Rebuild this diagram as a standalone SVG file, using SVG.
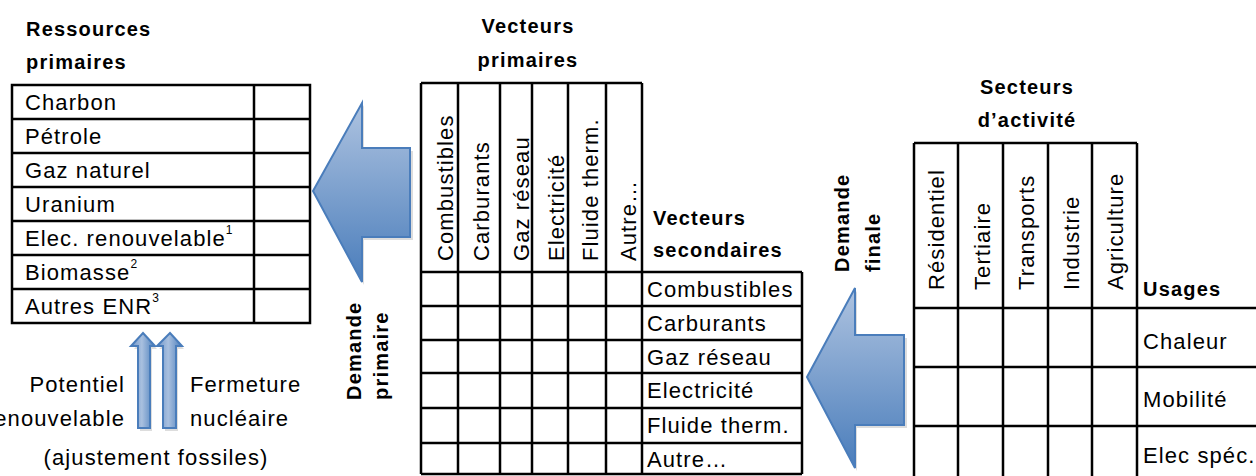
<svg xmlns="http://www.w3.org/2000/svg" width="1256" height="476" viewBox="0 0 1256 476">
<defs>
<linearGradient id="gv" x1="0" y1="0" x2="0" y2="1">
<stop offset="0" stop-color="#aec3e0"/>
<stop offset="1" stop-color="#4a7dbb"/>
</linearGradient>
<linearGradient id="gh" x1="0" y1="0" x2="1" y2="0">
<stop offset="0" stop-color="#6d94c8"/>
<stop offset="0.45" stop-color="#a9c0df"/>
<stop offset="1" stop-color="#4a7dbb"/>
</linearGradient>
</defs>
<style>
text{font-family:"Liberation Sans",Arial,sans-serif;fill:#000}
.t{font-size:22px;letter-spacing:1.1px}
.b{font-size:20px;font-weight:bold;letter-spacing:1.2px}
.sup{font-size:12px;letter-spacing:0}
.ln{stroke:#000;stroke-width:2.5;fill:none}
.arr{stroke:#4a7dbb;stroke-width:2;stroke-linejoin:miter}
.sh{fill:#bbbbbb;opacity:0.5}
</style>
<rect width="1256" height="476" fill="#fff"/>

<g id="connectors">
<g id="arrow-demande-primaire">
<polygon class="sh" points="315,194 364,105 364,151 413,151 413,240 364,240 364,285"/>
<polygon class="arr" fill="url(#gv)" points="313,191 362,103 362,148 410,148 410,237 362,237 362,282"/>
</g>
<g id="arrow-demande-finale">
<polygon class="sh" points="809,380 857,291 857,338 907,338 907,428 857,428 857,471"/>
<polygon class="arr" fill="url(#gv)" points="807,377 855,288 855,335 904,335 904,425 855,425 855,468"/>
</g>
<g id="arrow-potentiel">
<polygon class="sh" points="145,336 157,349 152,349 152,431 140,431 140,349 134,349"/>
<polygon class="arr" fill="url(#gh)" points="143,333 155,346 150,346 150,428 138,428 138,346 131,346"/>
</g>
<g id="arrow-fermeture">
<polygon class="sh" points="172,336 184,349 178,349 178,431 165,431 165,349 159,349"/>
<polygon class="arr" fill="url(#gh)" points="170,333 182,346 176,346 176,428 163,428 163,346 157,346"/>
</g>
</g>

<g id="ressources-primaires">
<text class="b" x="26" y="36">Ressources</text>
<text class="b" x="26" y="69">primaires</text>
<rect class="ln" x="12" y="85" width="298" height="238"/>
<path class="ln" d="M254,85V323 M12,119H310 M12,153H310 M12,187H310 M12,221H310 M12,255H310 M12,289H310"/>
<text class="t" x="25" y="110">Charbon</text>
<text class="t" x="25" y="144">Pétrole</text>
<text class="t" x="25" y="178">Gaz naturel</text>
<text class="t" x="25" y="212">Uranium</text>
<text class="t" x="25" y="246">Elec. renouvelable<tspan class="sup" dy="-12">1</tspan></text>
<text class="t" x="25" y="280">Biomasse<tspan class="sup" dy="-12">2</tspan></text>
<text class="t" x="25" y="314">Autres ENR<tspan class="sup" dy="-12">3</tspan></text>
</g>

<g id="ajustement">
<text class="t" x="125" y="392" text-anchor="end">Potentiel</text>
<text class="t" x="125" y="426" text-anchor="end">renouvelable</text>
<text class="t" x="190" y="392">Fermeture</text>
<text class="t" x="190" y="426">nucléaire</text>
<text class="t" x="156" y="465" text-anchor="middle">(ajustement fossiles)</text>
</g>

<g id="demande-primaire">
<text class="b" transform="translate(361,400) rotate(-90)">Demande</text>
<text class="b" transform="translate(388,400) rotate(-90)">primaire</text>
</g>

<g id="vecteurs">
<text class="b" x="528" y="33" text-anchor="middle">Vecteurs</text>
<text class="b" x="528" y="67" text-anchor="middle">primaires</text>
<path class="ln" d="M421,83H642 M421,83V474 M458,83V474 M500,83V474 M532,83V474 M568,83V474 M606,83V474 M642,83V474 M802,272V474 M421,272H802 M421,306H802 M421,340H802 M421,373H802 M421,408H802 M421,443H802 M421,474H802"/>
<text class="t" transform="translate(453,261) rotate(-90)">Combustibles</text>
<text class="t" transform="translate(489,261) rotate(-90)">Carburants</text>
<text class="t" transform="translate(529,261) rotate(-90)">Gaz réseau</text>
<text class="t" transform="translate(564,261) rotate(-90)">Electricité</text>
<text class="t" transform="translate(598,261) rotate(-90)">Fluide therm.</text>
<text class="t" transform="translate(636,261) rotate(-90)">Autre…</text>
<text class="b" x="653" y="225">Vecteurs</text>
<text class="b" x="653" y="257">secondaires</text>
<text class="t" x="647" y="297">Combustibles</text>
<text class="t" x="647" y="331">Carburants</text>
<text class="t" x="647" y="365">Gaz réseau</text>
<text class="t" x="647" y="398">Electricité</text>
<text class="t" x="647" y="433">Fluide therm.</text>
<text class="t" x="647" y="467">Autre…</text>
</g>

<g id="demande-finale">
<text class="b" transform="translate(849,272) rotate(-90)">Demande</text>
<text class="b" transform="translate(880,272) rotate(-90)">finale</text>
</g>

<g id="secteurs">
<text class="b" x="1027" y="94" text-anchor="middle">Secteurs</text>
<text class="b" x="1027" y="127" text-anchor="middle">d’activité</text>
<path class="ln" d="M914,143H1137 M914,143V476 M958,143V476 M1003,143V476 M1048,143V476 M1092,143V476 M1137,143V476 M914,308H1256 M914,367H1256 M914,426H1256"/>
<text class="t" transform="translate(944,290) rotate(-90)">Résidentiel</text>
<text class="t" transform="translate(990,290) rotate(-90)">Tertiaire</text>
<text class="t" transform="translate(1034,290) rotate(-90)">Transports</text>
<text class="t" transform="translate(1079,290) rotate(-90)">Industrie</text>
<text class="t" transform="translate(1123,290) rotate(-90)">Agriculture</text>
<text class="b" x="1143" y="296">Usages</text>
<text class="t" x="1143" y="349">Chaleur</text>
<text class="t" x="1143" y="407">Mobilité</text>
<text class="t" x="1143" y="463">Elec spéc.</text>
</g>
</svg>
